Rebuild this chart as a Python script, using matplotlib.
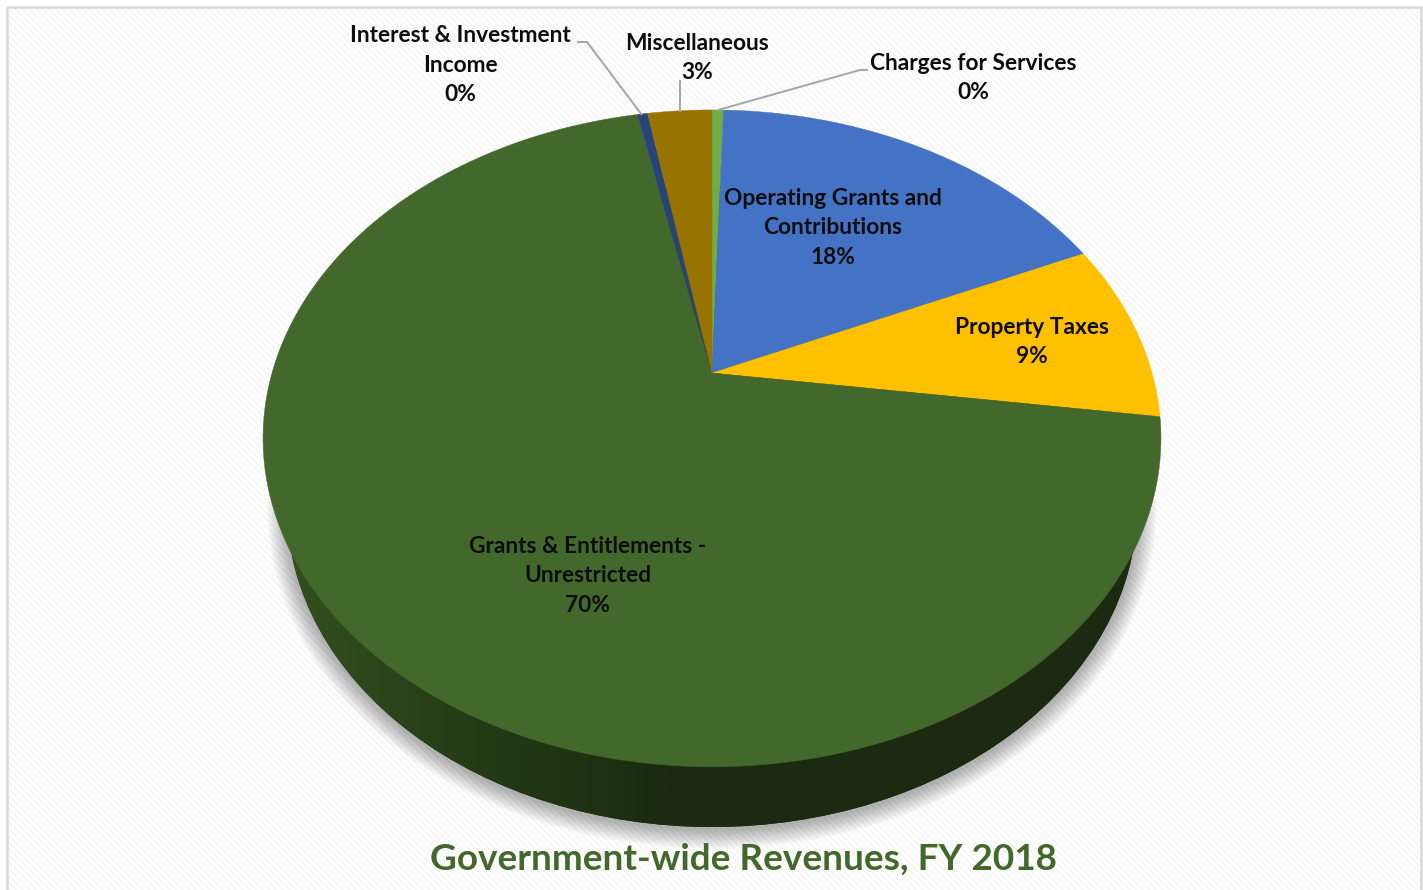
import numpy as np
import matplotlib
matplotlib.use("Agg")
import matplotlib.pyplot as plt
from matplotlib.patches import Ellipse, Rectangle

# share of revenue, clockwise from 12 o'clock, estimated from the slice edges
categories = ["Charges for Services", "Operating Grants and\nContributions", "Property Taxes",
              "Grants & Entitlements -\nUnrestricted", "Interest & Investment\nIncome", "Miscellaneous"]
shares = [0.5, 17.8, 8.85, 69.6, 0.45, 2.8]
pct_labels = ["0%", "18%", "9%", "70%", "0%", "3%"]
colors = ["#70ad47", "#4472c4", "#ffc000", "#43682b", "#264478", "#997300"]
title = "Government-wide Revenues, FY 2018"

FONT = "Lato"
plt.rcParams["font.family"] = [FONT, "DejaVu Sans"]

# perspective of the tilted disc, in pixels of the picture
APEX_X, APEX_Y = 712, 373
SCALE_X, SCALE_Y, TILT = 440, 315.4, 0.199


def project(angle):
    u, v = np.sin(angle), np.cos(angle)
    d = 1 + TILT * v
    return APEX_X + SCALE_X * u / d, APEX_Y - SCALE_Y * v / d


fig = plt.figure(figsize=(14.23, 8.9), dpi=100)
ax = fig.add_axes([0, 0, 1, 1])

# panel with faint diagonal stripes
plt.rcParams["hatch.linewidth"] = 1.2
ax.add_patch(Rectangle((0, 0), 1423, 890, facecolor="white", edgecolor="none", zorder=0))
ax.add_patch(Rectangle((7, 7), 1414, 900, facecolor="white", edgecolor="#f5f5f5", hatch="\\\\\\\\\\", lw=0, zorder=1))
ax.add_patch(Rectangle((7, 7), 1414, 900, facecolor="none", edgecolor="#d9d9d9", lw=1.8, zorder=1.1))

# soft shadow under the side wall
for i in range(1, 21):
    ax.add_patch(Ellipse((712, 509), 2 * (425 + i), 2 * (320 + i), facecolor="black",
                         edgecolor="none", alpha=0.014, zorder=2))

# side wall, lit from the left
wall_shape = Ellipse((712, 507), 850, 640, facecolor="#1c2a10", edgecolor="none", zorder=3)
ax.add_patch(wall_shape)
wall_cmap = matplotlib.colors.LinearSegmentedColormap.from_list(
    "wall", [(0, "#33501f"), (0.5, "#253b17"), (1, "#1b2a10")])
img = ax.imshow(np.interp(np.linspace(0, 1, 400), [0, 0.15, 0.45, 1], [0, 0.35, 1, 1])[None, :],
                cmap=wall_cmap, extent=(287, 1137, 830, 480), aspect="auto", zorder=3.1)
img.set_clip_path(wall_shape)

# top face
edges = np.deg2rad(np.cumsum([0] + shares) / sum(shares) * 360)
for start, end, color in zip(edges[:-1], edges[1:], colors):
    angle = np.linspace(start, end, 200)
    x, y = project(angle)
    ax.fill(np.r_[APEX_X, x], np.r_[APEX_Y, y], facecolor=color, edgecolor=color, lw=0.3, zorder=4)

# leader lines
leader = dict(color="#a6a6a6", lw=1.4, zorder=5, solid_capstyle="butt")
ax.plot([577, 587, 642], [42, 42, 115], **leader)
ax.plot([680, 680], [80, 112], **leader)
ax.plot([868, 860, 718], [70, 70, 110], **leader)

# one centre per category, same order as the data
label_x = [973, 833, 1032, 588, 460, 697]
label_y = [78, 228, 342, 576, 65, 58]
for name, pct, lx, ly in zip(categories, pct_labels, label_x, label_y):
    ax.text(lx, ly, name + "\n" + pct, ha="center", va="center", fontsize=16.4, fontweight="bold",
            linespacing=1.5, color="#0d0d0d", zorder=6)

ax.text(743, 859, title, ha="center", va="center", fontsize=26.6, fontweight="bold", color="#43682b", zorder=6)

ax.set_xlim(0, 1423)
ax.set_ylim(890, 0)
ax.axis("off")
fig.savefig("out.png", dpi=100)
